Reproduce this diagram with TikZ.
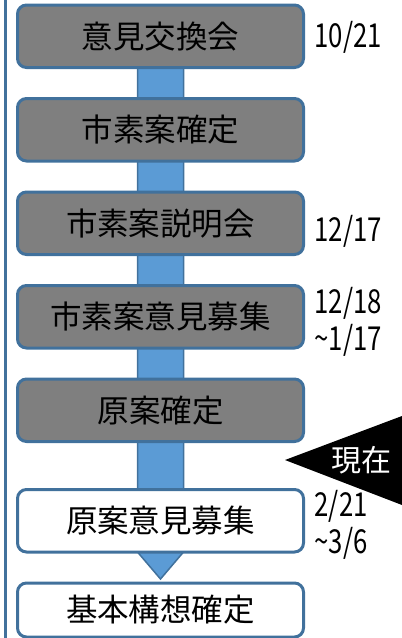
\documentclass[tikz,border=0pt]{standalone}
\usepackage{fontspec}
\setmainfont{Noto Sans CJK JP}
\newfontfamily\datefont[FakeStretch=0.78]{Noto Sans CJK JP}
\usetikzlibrary{positioning,backgrounds}
\definecolor{lineblue}{HTML}{41719C}
\definecolor{barblue}{HTML}{5B9BD5}
\definecolor{donegray}{HTML}{7F7F7F}

\begin{document}
\begin{tikzpicture}[x=1pt,y=-1pt,node distance=31pt,
  stage/.style={draw=lineblue,line width=3pt,rounded corners=9pt,minimum width=286pt,
    minimum height=62.5pt,outer sep=0pt,inner sep=0pt,font=\fontsize{31.5}{36}\selectfont},
  done/.style={stage,fill=donegray},
  todo/.style={stage,fill=white},
  date/.style={font=\datefont\fontsize{33}{37}\selectfont,align=left,inner sep=0pt}]
\useasboundingbox (0,0) rectangle (402,638);
\draw[lineblue,line width=3pt] (5,0) -- (5,638);
% stages
\node[done] (b1) at (160.5,36.25) {意見交換会};
\node[done] (b2) [below=of b1] {市素案確定};
\node[done] (b3) [below=of b2] {市素案説明会};
\node[done] (b4) [below=of b3] {市素案意見募集};
\node[done] (b5) [below=of b4] {原案確定};
\node[todo] (b6) [below=48pt of b5] {原案意見募集};
\node[todo,minimum height=54pt] (b7) [below=of b6] {基本構想確定};
% dates
\node[date] (d1) [right=11pt of b1,yshift=-1.25pt] {10/21};
\node[date] (d3) [right=11pt of b3,yshift=-7.75pt] {12/17};
\node[date] (d4) [right=11pt of b4,yshift=-4.75pt] {12/18\\\textasciitilde1/17};
\node[date] (d6) [right=11pt of b6,yshift=-4.25pt] {2/21\\\textasciitilde3/6};
% flow bar
\begin{scope}[on background layer]
\draw[lineblue,fill=barblue,line width=1.5pt] ([xshift=-23pt]b1.south) -- ([xshift=-23pt]b6.south)
  -- ([yshift=-27pt]b6.south) -- ([xshift=23pt]b6.south) -- ([xshift=23pt]b1.south) -- cycle;
\end{scope}
% current marker
\fill (285,460) -- (402,416) -- (402,505) -- cycle;
\node[text=white,font=\fontsize{30}{36}\selectfont,inner sep=0pt] (now) at (361,460) {現在};
\end{tikzpicture}
\end{document}
